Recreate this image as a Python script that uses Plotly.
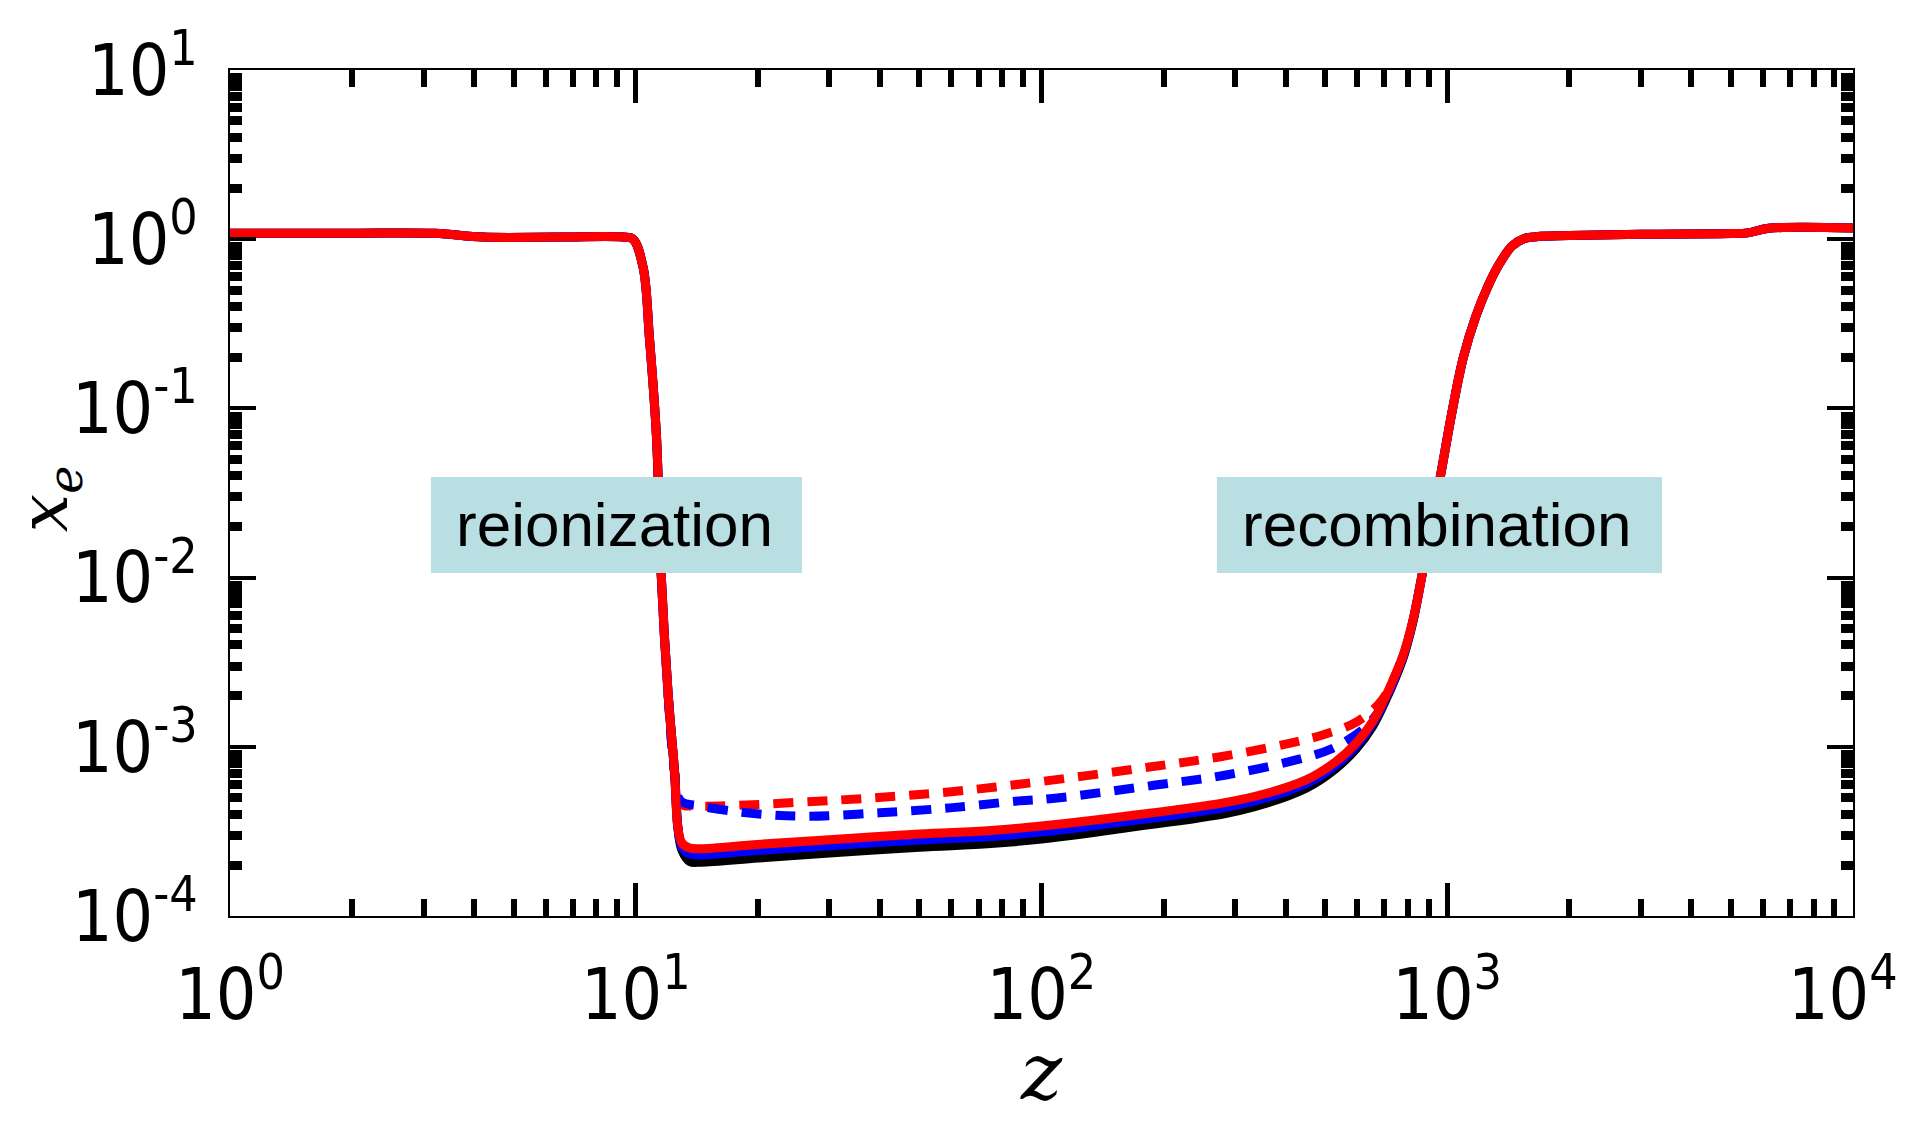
import plotly.graph_objects as go

# Ionization fraction x_e versus redshift z

# solid curves share one redshift grid
z_solid = [1.0, 2.0, 3.2, 4.2, 6.5, 9.3, 9.85, 10.43, 10.81, 11.25, 11.56, 12.02,
           12.47, 12.71, 13.0, 13.6, 14.5, 20, 30, 50, 75, 100, 174, 307, 449, 530,
           596, 655, 700, 776, 822, 868, 964, 1030, 1096, 1175, 1259, 1349, 1445, 1549,
           1660, 2000, 3000, 5000, 5500, 6200, 10000]

xe_black = [1.085, 1.085, 1.083, 1.03, 1.03, 1.03, 1.0, 0.68, 0.26, 0.068, 0.0102, 0.00204,
            7.0e-4, 3.3e-4, 2.45e-4, 2.1e-4, 2.08e-4, 2.2e-4, 2.36e-4, 2.55e-4, 2.68e-4,
            2.85e-4, 3.4e-4, 4.2e-4, 5.7e-4, 7.4e-4, 9.7e-4, 1.32e-3, 1.81e-3, 3.27e-3,
            5.4e-3, 1.05e-2, 4.07e-2, 9.8e-2, 0.2, 0.347, 0.525, 0.724, 0.912, 1.01,
            1.035, 1.05, 1.07, 1.08, 1.09, 1.16, 1.165]

xe_blue = [1.085, 1.085, 1.083, 1.03, 1.03, 1.03, 1.0, 0.68, 0.26, 0.068, 0.0102, 0.00204,
           7.0e-4, 3.3e-4, 2.55e-4, 2.32e-4, 2.3e-4, 2.44e-4, 2.6e-4, 2.81e-4, 2.95e-4,
           3.13e-4, 3.7e-4, 4.55e-4, 6.05e-4, 7.76e-4, 1.01e-3, 1.37e-3, 1.87e-3, 3.34e-3,
           5.46e-3, 1.05e-2, 4.07e-2, 9.8e-2, 0.2, 0.347, 0.525, 0.724, 0.912, 1.01,
           1.035, 1.05, 1.07, 1.08, 1.09, 1.16, 1.165]

xe_red = [1.085, 1.085, 1.083, 1.03, 1.03, 1.03, 1.0, 0.68, 0.26, 0.068, 0.0102, 0.00204,
          7.0e-4, 3.3e-4, 2.7e-4, 2.52e-4, 2.5e-4, 2.65e-4, 2.82e-4, 3.05e-4, 3.2e-4,
          3.4e-4, 3.98e-4, 4.85e-4, 6.37e-4, 8.13e-4, 1.05e-3, 1.41e-3, 1.91e-3, 3.39e-3,
          5.5e-3, 1.05e-2, 4.07e-2, 9.8e-2, 0.2, 0.347, 0.525, 0.724, 0.912, 1.01,
          1.035, 1.05, 1.07, 1.08, 1.09, 1.16, 1.165]

# dashed curves (post-reionization branch)
z_red_dash = [12.02, 12.47, 12.9, 14.1, 31.8, 60, 99, 184.5, 274, 408, 493, 600, 692, 776]
xe_red_dash = [2.04e-3, 7.0e-4, 4.6e-4, 4.47e-4, 4.85e-4, 5.43e-4, 6.22e-4, 7.59e-4,
               8.71e-4, 1.047e-3, 1.175e-3, 1.41e-3, 1.9e-3, 3.39e-3]

z_blue_dash = [12.02, 12.47, 12.9, 14.4, 18, 21.8, 26.8, 39.9, 60.4, 88, 106.5, 191, 285,
               424, 521, 618, 660, 700, 776]
xe_blue_dash = [2.04e-3, 7.0e-4, 4.8e-4, 4.47e-4, 4.12e-4, 3.95e-4, 3.89e-4, 4.07e-4,
                4.37e-4, 4.79e-4, 4.95e-4, 5.94e-4, 6.81e-4, 8.36e-4, 9.77e-4, 1.26e-3,
                1.48e-3, 1.82e-3, 3.39e-3]

x_tick_vals = [1, 10, 100, 1000, 10000]
# the last label carries a trailing non-breaking space so it stays inside the page
x_tick_text = ["10<sup>0</sup>", "10<sup>1</sup>", "10<sup>2</sup>", "10<sup>3</sup>",
               "10<sup>4</sup>&nbsp;"]
y_tick_vals = [1e-4, 1e-3, 1e-2, 1e-1, 1, 10]
y_tick_text = ["10<sup>-4</sup>", "10<sup>-3</sup>", "10<sup>-2</sup>", "10<sup>-1</sup>",
               "10<sup>0</sup>", "10<sup>1</sup>"]

phase_labels = ["reionization", "recombination"]

fig = go.Figure()

solid_w = 9
dash_w = 9
dash_pat = "20px,14px"

fig.add_trace(go.Scatter(x=z_solid, y=xe_black, mode="lines",
                         line=dict(color="#000000", width=solid_w, shape="spline")))
fig.add_trace(go.Scatter(x=z_red_dash, y=xe_red_dash, mode="lines",
                         line=dict(color="#ff0000", width=dash_w, dash=dash_pat, shape="spline")))
fig.add_trace(go.Scatter(x=z_blue_dash, y=xe_blue_dash, mode="lines",
                         line=dict(color="#0000ff", width=dash_w, dash=dash_pat, shape="spline")))
fig.add_trace(go.Scatter(x=z_solid, y=xe_blue, mode="lines",
                         line=dict(color="#0000ff", width=solid_w, shape="spline")))
fig.add_trace(go.Scatter(x=z_solid, y=xe_red, mode="lines",
                         line=dict(color="#ff0000", width=solid_w, shape="spline")))

tick_font = dict(family="Liberation Sans Narrow, DejaVu Sans Condensed, DejaVu Sans",
                 size=71, color="#000000")

x_minor = [m * 10 ** d for d in range(0, 4) for m in range(2, 10)]
y_minor = [m * 10.0 ** d for d in range(-4, 1) for m in range(2, 10)]

fig.update_xaxes(type="log", range=[0, 4.0002], tickmode="array", tickvals=x_tick_vals,
                 ticktext=x_tick_text, ticks="inside", ticklen=33, tickwidth=5,
                 tickcolor="#000000", showline=True, linecolor="#000000", linewidth=2,
                 mirror="allticks", showgrid=False, zeroline=False, tickfont=tick_font,
                 ticklabelstandoff=16, ticklabeloverflow="allow",
                 minor=dict(tickmode="array", tickvals=x_minor, ticks="inside",
                            ticklen=17, tickwidth=6, tickcolor="#000000", showgrid=False))
fig.update_yaxes(type="log", range=[-4, 1], tickmode="array", tickvals=y_tick_vals,
                 ticktext=y_tick_text, ticks="inside", ticklen=26, tickwidth=4,
                 tickcolor="#000000", showline=True, linecolor="#000000", linewidth=2,
                 mirror="allticks", showgrid=False, zeroline=False, tickfont=tick_font,
                 ticklabelstandoff=16, ticklabeloverflow="allow",
                 minor=dict(tickmode="array", tickvals=y_minor, ticks="inside",
                            ticklen=12, tickwidth=9, tickcolor="#000000", showgrid=False))

box_fill = "#b9dfe2"
boxes = [(0.1238, 0.3524), (0.6081, 0.8823)]
text_x = [0.2366, 0.7431]
for (bx0, bx1), tx, label in zip(boxes, text_x, phase_labels):
    fig.add_shape(type="rect", xref="paper", yref="paper", x0=bx0, x1=bx1,
                  y0=0.4054, y1=0.5189, fillcolor=box_fill, line=dict(width=0), layer="above")
    fig.add_annotation(xref="paper", yref="paper", x=tx, y=0.4622, text=label,
                       showarrow=False, xanchor="center", yanchor="middle",
                       font=dict(family="Liberation Sans, Arial, sans-serif", size=62,
                                 color="#000000"))

# axis titles
fig.add_annotation(xref="paper", yref="paper", x=-0.112, y=0.493,
                   text="<i>x</i><sub><i>e</i></sub>", showarrow=False, textangle=-90,
                   xanchor="center", yanchor="middle",
                   font=dict(family="DejaVu Serif, serif", size=68, color="#000000"))
fig.add_annotation(xref="paper", yref="paper", x=0.5003, y=-0.184, text="<i>z</i>",
                   showarrow=False, xanchor="center", yanchor="middle",
                   font=dict(family="DejaVu Serif, serif", size=78, color="#000000"))

fig.update_layout(width=1905, height=1129, paper_bgcolor="#ffffff", plot_bgcolor="#ffffff",
                  showlegend=False, margin=dict(l=230, r=52, t=70, b=213, autoexpand=False))

fig.write_html("out.html")
